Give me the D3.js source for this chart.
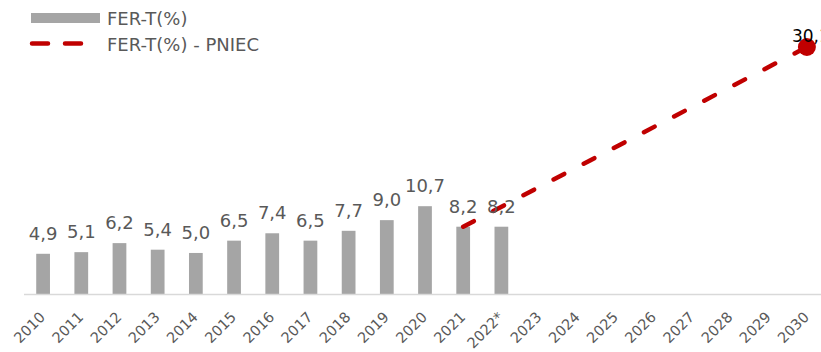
<!DOCTYPE html>
<html>
<head>
<meta charset="utf-8">
<script src="https://cdn.jsdelivr.net/npm/d3@7"></script>
<style>
  body { margin: 0; background: #fff; }
  svg { display: block; font-family: "DejaVu Sans", sans-serif; }
</style>
</head>
<body>
<svg id="chart" width="821" height="352"></svg>
<script>
"use strict";

// Categories on the x axis
var years = ["2010", "2011", "2012", "2013", "2014", "2015", "2016", "2017", "2018", "2019",
             "2020", "2021", "2022*", "2023", "2024", "2025", "2026", "2027", "2028", "2029", "2030"];

// Bars: FER-T(%)
var barYears  = ["2010", "2011", "2012", "2013", "2014", "2015", "2016", "2017", "2018", "2019", "2020", "2021", "2022*"];
var barValues = [4.9, 5.1, 6.2, 5.4, 5.0, 6.5, 7.4, 6.5, 7.7, 9.0, 10.7, 8.2, 8.2];

// Dashed line: FER-T(%) - PNIEC
var lineYears  = ["2021", "2030"];
var lineValues = [8.2, 30.1];

var svg = d3.select("#chart");
var baseline = 294;

var x = d3.scaleBand().domain(years).range([24, 826]).paddingInner(0.64).paddingOuter(0.32);
var y = d3.scaleLinear().domain([0, 30.1]).range([baseline, 47]);

function cx(d) { return x(d) + x.bandwidth() / 2; }
function fmt(v) { return d3.format(".1f")(v).replace(".", ","); }

// Bars
svg.append("g").selectAll("rect")
    .data(barYears)
    .join("rect")
    .attr("x", function(d) { return x(d); })
    .attr("width", x.bandwidth())
    .attr("y", function(d, i) { return y(barValues[i]); })
    .attr("height", function(d, i) { return baseline - y(barValues[i]); })
    .attr("fill", "#a5a5a5");

// Axis line
svg.append("line")
    .attr("x1", 24).attr("x2", 821)
    .attr("y1", baseline + 0.5).attr("y2", baseline + 0.5)
    .attr("stroke", "#d9d9d9").attr("stroke-width", 1.5);

// Rotated tick labels
svg.append("g").selectAll("text")
    .data(years)
    .join("text")
    .attr("transform", function(d) { return "translate(" + (cx(d) + 3) + "," + (baseline + 24) + ") rotate(-45)"; })
    .attr("text-anchor", "end")
    .attr("font-size", 14.5)
    .attr("fill", "#595959")
    .text(function(d) { return d; });

// Dashed projection line
var line = d3.line()
    .x(function(d) { return cx(d); })
    .y(function(d, i) { return y(lineValues[i]); });

svg.append("path")
    .attr("d", line(lineYears))
    .attr("fill", "none")
    .attr("stroke", "#c00000")
    .attr("stroke-width", 4.5)
    .attr("stroke-linecap", "round")
    .attr("stroke-dasharray", "12,22");

// End marker
var last = lineYears.length - 1;
svg.append("circle")
    .attr("cx", cx(lineYears[last]))
    .attr("cy", y(lineValues[last]))
    .attr("r", 9)
    .attr("fill", "#c00000");

svg.append("text")
    .attr("x", cx(lineYears[last]) - 15)
    .attr("y", y(lineValues[last]) - 5)
    .attr("font-size", 17)
    .attr("fill", "#000")
    .text(fmt(lineValues[last]));

// Bar value labels
svg.append("g").selectAll("text")
    .data(barYears)
    .join("text")
    .attr("x", function(d) { return cx(d); })
    .attr("y", function(d, i) { return y(barValues[i]) - 14; })
    .attr("text-anchor", "middle")
    .attr("font-size", 18)
    .attr("fill", "#595959")
    .text(function(d, i) { return fmt(barValues[i]); });

// Legend
var legend = svg.append("g");
legend.append("rect")
    .attr("x", 31).attr("y", 13).attr("width", 69).attr("height", 10)
    .attr("fill", "#a5a5a5");
legend.append("text")
    .attr("x", 107).attr("y", 25)
    .attr("font-size", 18).attr("fill", "#595959")
    .text("FER-T(%)");
legend.append("line")
    .attr("x1", 32).attr("x2", 84).attr("y1", 43.5).attr("y2", 43.5)
    .attr("stroke", "#c00000").attr("stroke-width", 4.5)
    .attr("stroke-linecap", "round").attr("stroke-dasharray", "16,17");
legend.append("text")
    .attr("x", 107).attr("y", 51)
    .attr("font-size", 18).attr("fill", "#595959")
    .text("FER-T(%) - PNIEC");
</script>
</body>
</html>
